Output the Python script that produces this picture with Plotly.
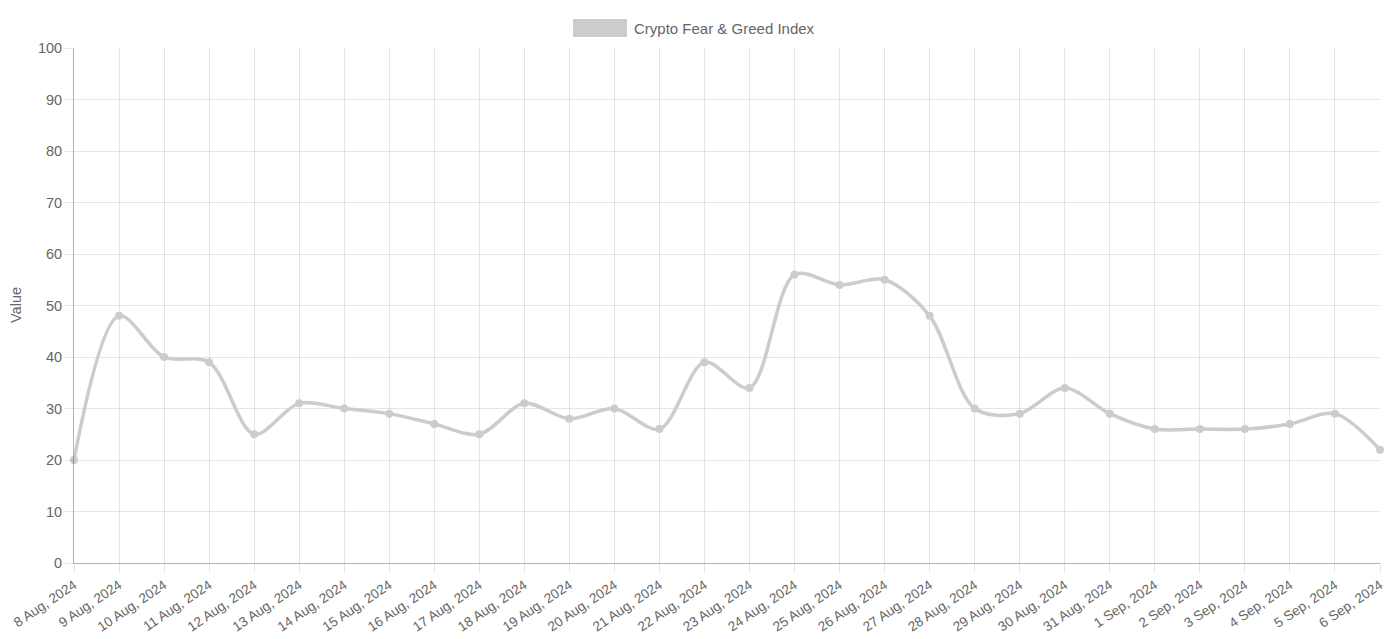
import plotly.graph_objects as go

dates = ["8 Aug, 2024", "9 Aug, 2024", "10 Aug, 2024", "11 Aug, 2024", "12 Aug, 2024",
         "13 Aug, 2024", "14 Aug, 2024", "15 Aug, 2024", "16 Aug, 2024", "17 Aug, 2024",
         "18 Aug, 2024", "19 Aug, 2024", "20 Aug, 2024", "21 Aug, 2024", "22 Aug, 2024",
         "23 Aug, 2024", "24 Aug, 2024", "25 Aug, 2024", "26 Aug, 2024", "27 Aug, 2024",
         "28 Aug, 2024", "29 Aug, 2024", "30 Aug, 2024", "31 Aug, 2024", "1 Sep, 2024",
         "2 Sep, 2024", "3 Sep, 2024", "4 Sep, 2024", "5 Sep, 2024", "6 Sep, 2024"]
values = [20, 48, 40, 39, 25, 31, 30, 29, 27, 25, 31, 28, 30, 26, 39,
          34, 56, 54, 55, 48, 30, 29, 34, 29, 26, 26, 26, 27, 29, 22]
series_name = "Crypto Fear & Greed Index"

idx = list(range(len(dates)))
line_color = "rgb(204,204,204)"
FAM = "Liberation Sans, Arial, Helvetica, sans-serif"
font = dict(family=FAM, size=14.5, color="#666")
xfont = dict(family=FAM, size=13.6, color="#666")
legfont = dict(family=FAM, size=15, color="#666")

# page body has an 8px margin; figure placed at (8, 8)
OFF = 8
L, R, T, B = 74, 1380, 48, 563  # plot area in window pixels
W, H = 1392 - OFF, 639 - OFF
pw, ph = R - L, B - T

def px(x):
    return (x - L) / pw

def py(y):
    return (B - y) / ph

fig = go.Figure()
fig.add_trace(go.Scatter(
    x=idx, y=values, mode="lines+markers", name=series_name,
    line=dict(color=line_color, width=3.5, shape="spline", smoothing=0.9),
    marker=dict(color=line_color, size=8),
    showlegend=False, cliponaxis=False,
))

grid = "rgba(0,0,0,0.1)"
fig.update_layout(
    width=W, height=H,
    margin=dict(l=L - OFF, r=W + OFF - R, t=T - OFF, b=H + OFF - B, autoexpand=False),
    paper_bgcolor="white", plot_bgcolor="white",
    font=font,
    xaxis=dict(
        range=[0, len(dates) - 1], tickmode="array", tickvals=idx, ticktext=dates,
        tickangle=-34, showgrid=True, gridcolor=grid, gridwidth=1,
        ticks="outside", ticklen=8, tickcolor=grid,
        showline=True, linecolor="rgba(0,0,0,0.3)", linewidth=1,
        zeroline=False, tickfont=xfont, automargin=False,
    ),
    yaxis=dict(
        range=[0, 100], tickmode="linear", tick0=0, dtick=10,
        showgrid=True, gridcolor=grid, gridwidth=1,
        ticks="outside", ticklen=8, tickcolor=grid,
        showline=True, linecolor="rgba(0,0,0,0.3)", linewidth=1,
        zeroline=False, tickfont=font, automargin=False,
    ),
    shapes=[dict(type="rect", xref="paper", yref="paper",
                 x0=px(573), x1=px(627), y0=py(37), y1=py(19),
                 fillcolor=line_color, line=dict(width=0))],
    annotations=[
        dict(text=series_name, xref="paper", yref="paper",
             x=px(632), y=py(28), xanchor="left", yanchor="middle",
             showarrow=False, font=legfont),
        dict(text="Value", xref="paper", yref="paper", textangle=-90,
             x=px(16), y=py(305), xanchor="center", yanchor="middle",
             showarrow=False, font=font),
    ],
)

fig.write_html("out.html")
